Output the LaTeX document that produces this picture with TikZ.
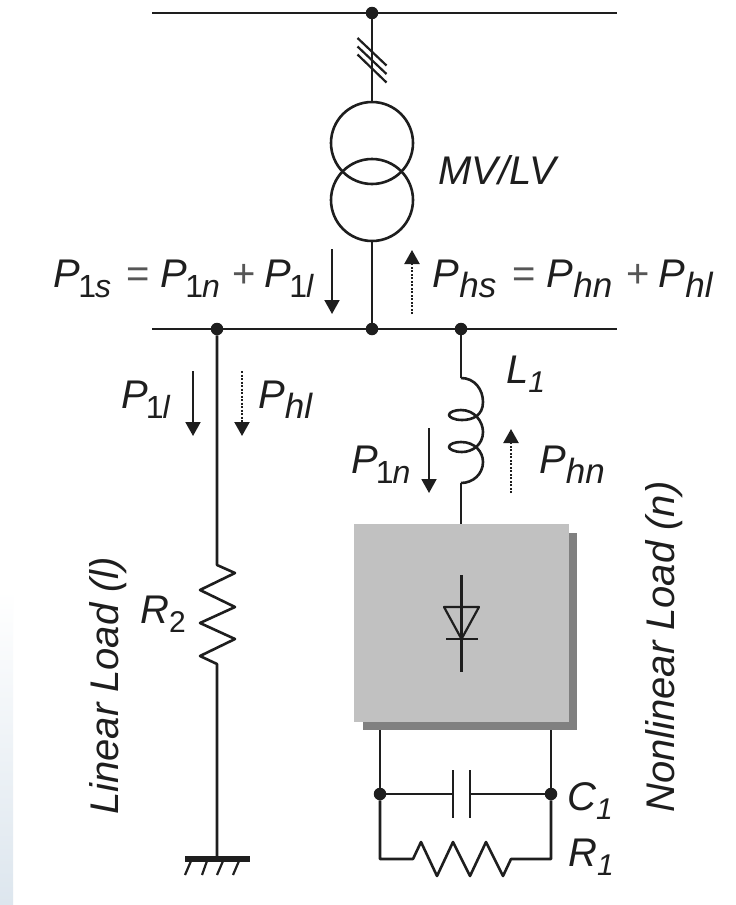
\documentclass[tikz,border=0pt]{standalone}
\usepackage{fontspec}
\setmainfont{Liberation Sans}
\usetikzlibrary{arrows.meta,shapes.geometric}
\definecolor{ink}{HTML}{1E1E1E}
\definecolor{edgeblue}{HTML}{DDE6EE}
\newcommand{\bigf}{\fontsize{40}{44}\selectfont\itshape}
\newcommand{\sbs}[1]{\raisebox{-10pt}{\fontsize{35}{38}\selectfont #1}}
\newcommand{\sbo}[1]{\raisebox{-10pt}{\fontsize{32}{36}\selectfont{\upshape\kern-2pt 1\kern-1pt}#1}}
\newcommand{\sbt}[1]{\raisebox{-9pt}{\fontsize{30}{33}\selectfont #1}}
\newcommand{\rmn}[1]{{\upshape #1}}
\newcommand{\opn}[1]{{\upshape\color{ink!75}#1}}
\newcommand{\placed}[2]{\rlap{\kern#1pt #2}}
\tikzset{
  wire/.style={draw=ink,line width=2.6pt,line join=round},
  thin wire/.style={draw=ink,line width=2.2pt,line join=round},
  jn/.style={circle,fill=ink,inner sep=0pt,minimum size=12.5pt},
  lbl/.style={font=\bigf,text=ink,inner sep=0pt,anchor=base west},
  solidarrow/.style={draw=ink,line width=1.9pt,-{Triangle[length=14pt,width=15pt]}},
  dotarrow/.style={draw=ink,line width=2.2pt,dash pattern=on 2pt off 1.5pt,-{Triangle[length=14pt,width=15pt]}},
}
\begin{document}
\begin{tikzpicture}[x=1pt,y=-1pt]
\useasboundingbox (0,0) rectangle (736,905);
\fill[white] (0,0) rectangle (736,905);
\shade[top color=white,bottom color=edgeblue] (0,590) rectangle (13,905);
% buses
\coordinate (t1) at (152,13); \coordinate (t2) at (617,13);
\coordinate (b1) at (152,329); \coordinate (b2) at (617,329);
\node[jn] (top) at (372,13) {};
\node[jn] (bm) at (372,329) {};
\node[jn] (bl) at (217,329) {};
\node[jn] (br) at (461,329) {};
\draw[wire] (t1) -- (t2);
\draw[wire] (b1) -- (b2);
% transformer
\node[circle,draw=ink,line width=2.6pt,minimum size=82pt,inner sep=0pt] (tu) at (372,143) {};
\node[circle,draw=ink,line width=2.6pt,minimum size=82pt,inner sep=0pt] (tl) at (372,200) {};
\draw[wire] (top) -- (tu.north);
\draw[wire] (tl.south) -- (bm);
\draw[thin wire] (357.5,38) -- (386.5,65.5) (357.5,46.5) -- (386.5,74) (357.5,54.5) -- (386.5,82.5);
% inductor
\coordinate (lt) at (461,378); \coordinate (lb) at (461,483);
\draw[wire] (br) -- (lt);
\draw[wire] (lt) .. controls (475,378) and (483,390) .. (483,402)
  .. controls (483,416) and (472,420) .. (462,420)
  .. controls (454,420) and (449,417) .. (449,415)
  .. controls (449,412) and (455,410) .. (461,410)
  .. controls (475,410) and (483,422) .. (483,432)
  .. controls (483,445) and (472,452) .. (462,452)
  .. controls (454,452) and (449,449) .. (449,447)
  .. controls (449,444) and (455,442) .. (461,442)
  .. controls (475,442) and (483,452) .. (483,462)
  .. controls (483,474) and (473,483) .. (lb);
% box
\fill[fill=black!50] (363,533) rectangle (577,730);
\node[draw=none,fill=black!24.5,minimum width=215pt,minimum height=198pt,inner sep=0pt,anchor=north west] (box) at (354,524) {};
\draw[wire] (lb) -- (461,524);
% diode
\coordinate (dt) at (461.5,575); \coordinate (db) at (461.5,672);
\draw[thin wire] (dt) -- (db);
\draw[thin wire] (444,607) -- (479,607) -- (461.5,639) -- cycle;
\draw[thin wire] (446,639) -- (478,639);
% RC
\node[jn] (cl) at (380,794) {};
\node[jn] (cr) at (551,794) {};
\draw[wire] (380,730) -- (cl);
\draw[wire] (551,730) -- (cr);
\draw[wire] (cl) -- (453,794) (470,794) -- (cr);
\draw[wire] (453,770) -- (453,818) (470,770) -- (470,818);
\draw[wire] (cl) -- (380,859) -- (413,859) -- (421,842) -- (437,876) -- (453,842) -- (470,876) -- (486,842) -- (503,876) -- (511,859) -- (551,859) -- (cr);
% R2 and ground
\draw[wire] (bl) -- (217,565) -- (235,573) -- (200,590) -- (235,607) -- (200,623) -- (235,639) -- (200,656) -- (217,664) -- (217,858);
\fill[ink] (185,856) rectangle (250,862);
\draw[thin wire] (191,861) -- (185,875) (207,861) -- (202,875) (223,861) -- (217,875) (239,861) -- (233,875);
% arrows
\coordinate (a1s) at (332,249); \coordinate (a1e) at (332,314);
\draw[solidarrow] (a1s) -- (a1e);
\coordinate (a2s) at (412,314); \coordinate (a2e) at (412,250);
\draw[dotarrow] (a2s) -- (a2e);
\coordinate (a3s) at (193,371); \coordinate (a3e) at (193,436);
\draw[solidarrow] (a3s) -- (a3e);
\coordinate (a4s) at (242,371); \coordinate (a4e) at (242,436);
\draw[dotarrow] (a4s) -- (a4e);
\coordinate (a5s) at (429,428); \coordinate (a5e) at (429,493);
\draw[solidarrow] (a5s) -- (a5e);
\coordinate (a6s) at (511,493); \coordinate (a6e) at (511,429);
\draw[dotarrow] (a6s) -- (a6e);
% labels
\node[lbl] (mv) at (438,184) {MV/LV};
\node[lbl] (eq1) at (53,287) {\placed{0}{P\sbo{s}}\placed{73}{\opn{=}}\placed{107}{P\sbo{n}}\placed{179}{\opn{+}}\placed{211}{P\sbo{l}}\hspace{260pt}};
\node[lbl] (eq2) at (432,287) {\placed{0}{P\sbs{hs}}\placed{80}{\opn{=}}\placed{114}{P\sbs{hn}}\placed{194}{\opn{+}}\placed{226}{P\sbs{hl}}\hspace{284pt}};
\node[lbl] (pl) at (121,408) {P\sbo{l}};
\node[lbl] (phl) at (258,408) {P\sbs{hl}};
\node[lbl] (pn) at (351,473) {P\sbo{n}};
\node[lbl] (phn) at (539,473) {P\sbs{hn}};
\node[lbl] (l1) at (506,383) {L\sbt{1}};
\node[lbl] (c1) at (567,810) {C\sbt{1}};
\node[lbl] (r1) at (568,866) {R\sbt{1}};
\node[lbl] (r2) at (140,623) {R\sbt{\rmn{2}}};
\node[lbl,rotate=90] (ll) at (118,815) {Linear Load (l)};
\node[lbl,rotate=90] (nl) at (674,813) {Nonlinear Load (n)};
\end{tikzpicture}
\end{document}
